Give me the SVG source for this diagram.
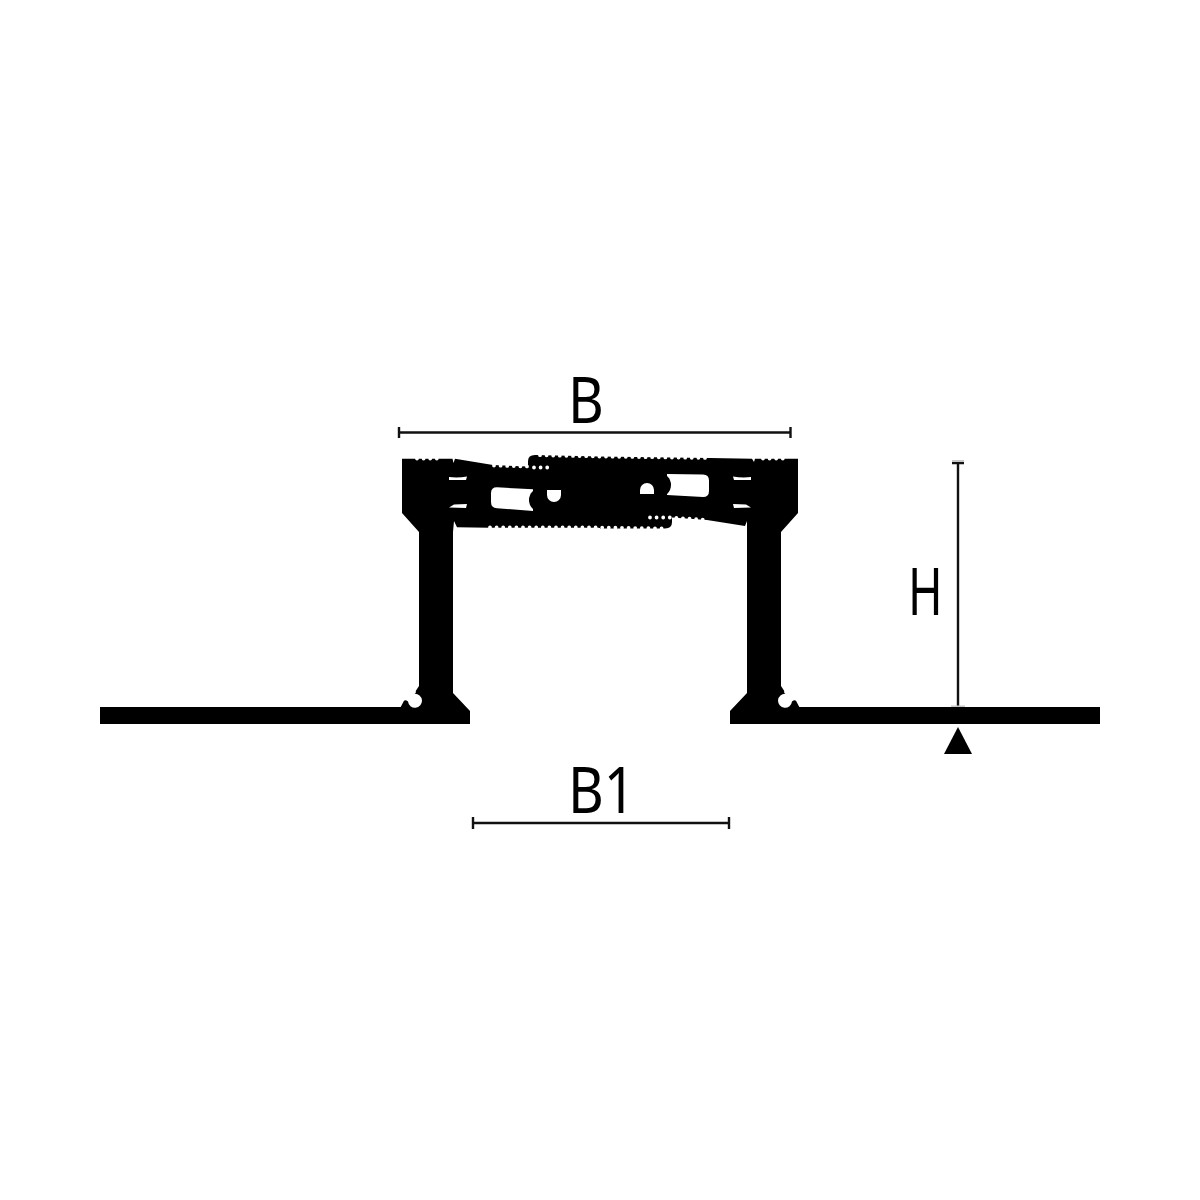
<svg xmlns="http://www.w3.org/2000/svg" width="1200" height="1200" viewBox="0 0 1200 1200">
<style>
.k{fill:#000}
.w{fill:#fff}
.sc{fill:none;stroke:#fff;stroke-width:3.8;stroke-linecap:round;stroke-dasharray:0 6.6}
.d{fill:none;stroke:#111;stroke-width:2.4}
.g{fill:#c8c8c8}
.t{font-family:"Noto Sans","Open Sans",sans-serif;font-size:60px;fill:#000}
</style>
<rect width="1200" height="1200" fill="#fff"/>
<g id="profile">
<path id="left-half" class="k" d="M100 707H400.700L404 700.800Q405.500 699.300 408 701.500A7 7 0 1 0 414.500 693.800Q416.500 693 415.700 691L419 686V532L402 513V458.700H452.500L453.500 463L455 458.700L493 465L528 466.500H601V527.800H490L457 527.300L454 521L453 532V693L470 711V724H100Z"/>
<path id="right-half" class="k" d="M1100 707H799.300L796 700.800Q794.500 699.300 792 701.500A7 7 0 1 1 785.500 693.800Q783.500 693 784.300 691L781 686V532L798 513V458.700H755L754 462L752 458.700L710 458L599 456.500V528H665V517L707 520L745 526L747 521V532V693L730 711V724H1100Z"/>
<path id="upper-pill" class="k" d="M535 455L600 456.500V470H528V461Q528 455 535 455Z"/>
<path id="lower-pill" class="k" d="M600 510H672V522Q672 528.500 665 528.500H600Z"/>
<path id="slits" class="w" d="M449 477Q458 478 467 476.500L466 480H449ZM449 507.500L454 504.500L467 504L466 508ZM751 477Q742 478 733 476.500L734 480H751ZM751 507.500L746 504.500L733 504L734 508Z"/>
<path id="windows" class="w" d="M497 487.300L533 489.300V511L497 508.300Q491 508 491 502V493Q491 487.300 497 487.300ZM703 474.500L667 474V495L703 497Q709 497 709 491V480.500Q709 474.500 703 474.500Z"/>
<circle class="k" cx="541" cy="500" r="12"/>
<circle class="k" cx="659" cy="485" r="12"/>
<path id="holes" class="w" d="M547 490H561V495A7 7 0 0 1 547 495ZM640 494H654V490A7 7 0 0 0 640 490Z"/>
<path class="sc" d="M417 458.500H438M494 465.500L528 466.500M534 467.500H550M540 455.200L600 456.500L709 458M490 527.500H600L666 528.500M763 458.500H783M650 517.500H672L707 520"/>
</g>
<g id="connectors">
<path class="d" d="M398 432.500H791M399 427V438M790.500 427V438M473 823H729M473 817V829M729 817V829M958 463V707M952 463H964"/>
<rect class="g" x="952" y="460" width="12" height="2"/>
<rect class="g" x="951" y="705.500" width="14" height="1.500"/>
<path fill="#000" d="M958 727L944 754H972Z"/>
</g>
<g id="labels">
<text class="t" transform="translate(568 423) scale(0.92 1.05)">B</text>
<text class="t" transform="translate(568 813) scale(0.92 1.05)">B1</text>
<text class="t" transform="translate(908 615) scale(0.78 1.1)">H</text>
</g>
</svg>
